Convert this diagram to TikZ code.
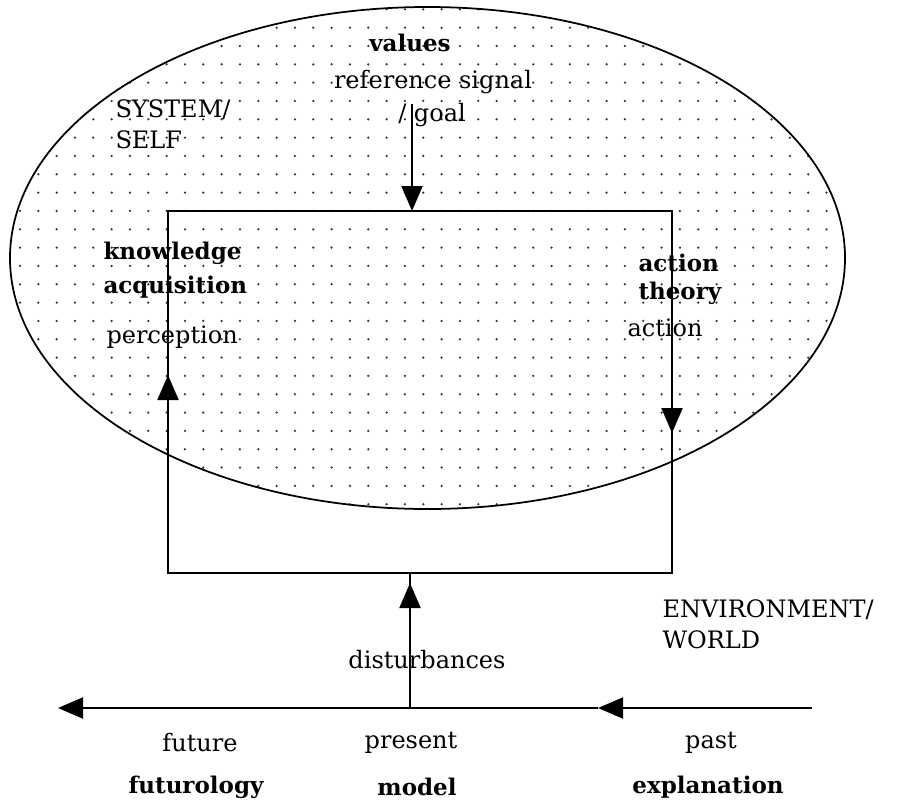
\documentclass[tikz,border=0pt]{standalone}
\usepackage{fontspec}
\setmainfont{DejaVu Serif}
\usetikzlibrary{arrows.meta}
\begin{document}
\begin{tikzpicture}[x=0.4pt,y=-0.4pt,
  lbl/.style={font=\fontsize{9.6}{11}\selectfont, inner sep=0pt},
  blbl/.style={font=\fontsize{9.2}{11}\selectfont\bfseries, inner sep=0pt},
  ln/.style={line width=0.8pt},
  tip/.style={-{Triangle[width=8.4pt,length=10pt]}},
]
\useasboundingbox (0,0) rectangle (904,806);
% dotted ellipse
\begin{scope}
\clip (427.5,258) ellipse [x radius=417.5, y radius=251];
\foreach \i in {0,...,47} \foreach \j in {0,...,28}
  \fill[black!80] ({1.67+18.33*\i},{9.33+18.33*\j}) circle[radius=0.5pt];
\end{scope}
\draw[line width=0.7pt] (427.5,258) ellipse [x radius=417.5, y radius=251];
% loop rectangle
\coordinate (rtl) at (168,211);
\coordinate (rbr) at (672,573);
\draw[ln] (rtl) rectangle (rbr);
% labels
\node[blbl] (values) at (410,43) {values};
\node[lbl] (ref) at (433,82) {reference signal};
\node[lbl] (goal) at (432,115) {/ goal};
\node[lbl,anchor=west] (sys) at (115,110) {SYSTEM/};
\node[lbl,anchor=west] (self) at (115,140) {SELF};
\node[blbl,anchor=west] (know) at (103,253) {knowledge};
\node[blbl,anchor=west] (acq) at (103,287) {acquisition};
\node[lbl,anchor=west] (perc) at (106,337) {perception};
\node[blbl,anchor=west] (act1) at (638,263) {action};
\node[blbl,anchor=west] (theo) at (638,293) {theory};
\node[lbl,anchor=west] (act2) at (627,328) {action};
\node[lbl,anchor=west] (env) at (662,610) {ENVIRONMENT/};
\node[lbl,anchor=west] (world) at (662,640) {WORLD};
\node[lbl] (dist) at (427,660) {disturbances};
\node[lbl] (fut) at (200,743) {future};
\node[lbl] (pres) at (411,743) {present};
\node[lbl] (past) at (711,743) {past};
\node[blbl] (futl) at (196,787) {futurology};
\node[blbl] (model) at (417,787) {model};
\node[blbl] (expl) at (708,787) {explanation};
% arrows
\coordinate (vstart) at (412,104);
\coordinate (vend) at (412,211);
\draw[ln,tip] (vstart) -- (vend);
\coordinate (lbot) at (168,573);
\coordinate (ltip) at (168,375);
\draw[ln,tip] (lbot) -- (ltip);
\coordinate (rtop) at (672,211);
\coordinate (rtip) at (672,433);
\draw[ln,tip] (rtop) -- (rtip);
\coordinate (dbase) at (410,708);
\coordinate (dtop) at (410,573);
\coordinate (dtip) at (410,583);
\draw[ln] (dbase) -- (dtop);
\draw[ln,tip] (dbase) -- (dtip);
\coordinate (tright) at (812,708);
\coordinate (tmid) at (598,708);
\coordinate (tleft) at (58,708);
\draw[ln,tip] (tright) -- (tmid);
\draw[ln,tip] (tmid) -- (tleft);
\end{tikzpicture}
\end{document}
